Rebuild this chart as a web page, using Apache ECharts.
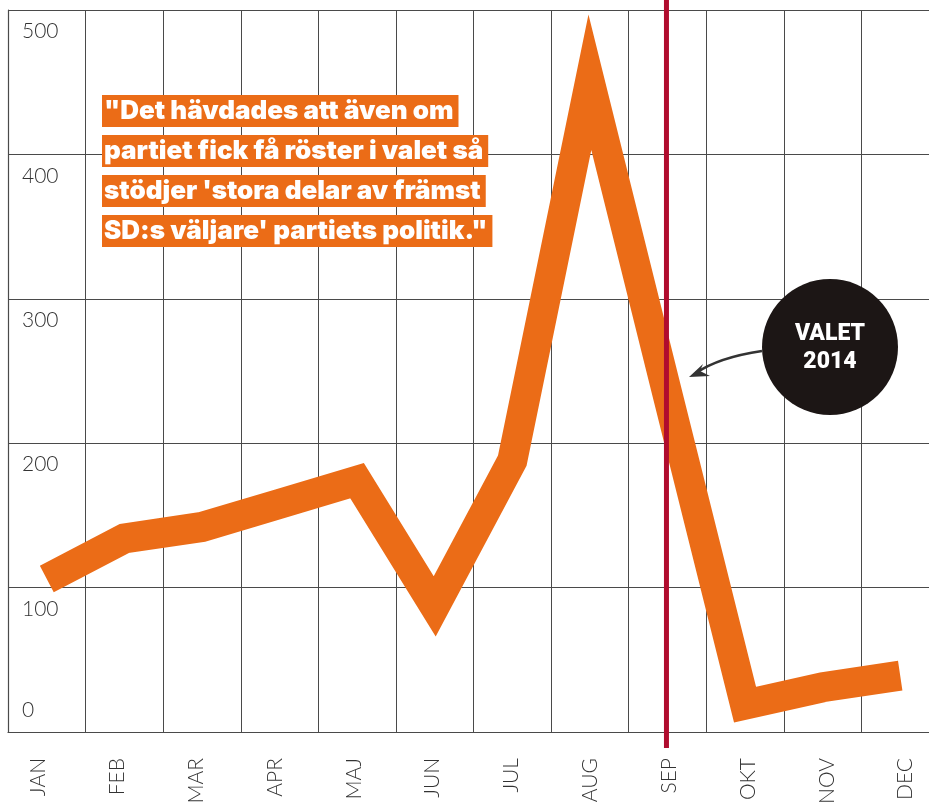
<!DOCTYPE html>
<html>
<head>
<meta charset="utf-8">
<script src="https://cdn.jsdelivr.net/npm/echarts@6/dist/echarts.min.js"></script>
<style>
html,body{margin:0;padding:0;background:#fff;overflow:hidden;width:929px;height:805px;}
#chart{width:945px;height:805px;}
</style>
</head>
<body>
<div id="chart"></div>
<script>
const months = ['JAN','FEB','MAR','APR','MAJ','JUN','JUL','AUG','SEP','OKT','NOV','DEC'];
const values = [106, 134, 142, 158, 174, 87, 188, 450, 234, 19, 31, 39];
const yTicks = [0, 100, 200, 300, 400, 500];
const electionMonth = 'SEP';
const quoteLines = [
  '"Det hävdades att även om',
  'partiet fick få röster i valet så',
  'stödjer \'stora delar av främst',
  'SD:s väljare\' partiets politik."'
];
const badgeLines = ['VALET', '2014'];

const ORANGE = '#EB6C17';
const GRID = '#4a4a4a';
const LABEL = '#333333';
const labelFont = 'Lato';

const chart = echarts.init(document.getElementById('chart'), null, {renderer: 'canvas'});

const yMin = yTicks[0], yMax = yTicks[yTicks.length - 1], yStep = yTicks[1] - yTicks[0];

const option = {
  animation: false,
  backgroundColor: '#fff',
  grid: [
    {left: 8, top: 10, width: 931, height: 722, containLabel: false, outerBoundsMode: 'none'},
    // label band: month names sit on a slightly wider spacing than the plot columns
    {left: -1, top: 10, width: 946, height: 722, containLabel: false, outerBoundsMode: 'none'}
  ],
  xAxis: [{
    type: 'category',
    data: months,
    gridIndex: 0,
    boundaryGap: true,
    axisLine: {show: true, lineStyle: {color: GRID, width: 1.2}},
    axisTick: {show: false},
    splitLine: {show: true, lineStyle: {color: GRID, width: 1}},
    axisLabel: {show: false}
  }, {
    type: 'category',
    data: months,
    gridIndex: 1,
    boundaryGap: true,
    axisLine: {show: false},
    axisTick: {show: false},
    splitLine: {show: false},
    axisLabel: {
      rotate: 90, margin: 26, fontSize: 21, fontFamily: labelFont, fontWeight: 300,
      color: LABEL, verticalAlign: 'middle', interval: 0
    }
  }],
  yAxis: [{
    type: 'value', min: yMin, max: yMax, interval: yStep, gridIndex: 0,
    axisLine: {show: true, lineStyle: {color: GRID, width: 1.2}},
    axisTick: {show: false},
    splitLine: {show: true, lineStyle: {color: GRID, width: 1}},
    axisLabel: {
      inside: true, margin: 14, fontSize: 21, fontFamily: labelFont, fontWeight: 300,
      color: LABEL, verticalAlign: 'top', padding: [11, 0, 0, 0],
      formatter: v => (v === 0 ? '' : String(v))
    }
  }, {
    type: 'value', min: yMin, max: yMax, interval: yStep, position: 'left', gridIndex: 0,
    axisLine: {show: false}, axisTick: {show: false}, splitLine: {show: false},
    axisLabel: {
      inside: true, margin: 14, fontSize: 21, fontFamily: labelFont, fontWeight: 300,
      color: LABEL, verticalAlign: 'bottom', padding: [0, 0, 11, 0],
      formatter: v => (v === 0 ? '0' : '')
    }
  }, {
    type: 'value', min: yMin, max: yMax, interval: yStep, gridIndex: 1, show: false
  }],
  series: [{
    type: 'line',
    data: values,
    xAxisIndex: 0,
    yAxisIndex: 0,
    symbol: 'none',
    z: 3,
    lineStyle: {color: ORANGE, width: 30, cap: 'butt', join: 'miter', miterLimit: 20}
  }]
};
chart.setOption(option);

// annotations
const sepX = chart.convertToPixel({xAxisIndex: 0}, electionMonth);
const graphics = [];
graphics.push({
  type: 'line', z: 10,
  shape: {x1: sepX - 1, y1: 0, x2: sepX - 1, y2: 748},
  style: {stroke: '#B00C2E', lineWidth: 5}
});
quoteLines.forEach((t, i) => {
  graphics.push({
    type: 'text', z: 20, x: 102, y: 95 + i * 40,
    style: {
      text: t, fill: '#fff', font: '900 26px Inter',
      backgroundColor: ORANGE, padding: [3, 5, 3, 2], lineHeight: 26
    }
  });
});
graphics.push({
  type: 'circle', z: 20, shape: {cx: 830, cy: 347, r: 68}, style: {fill: '#1C1615'}
});
badgeLines.forEach((t, i) => {
  graphics.push({
    type: 'text', z: 21, x: 830, y: 334 + i * 28,
    style: {text: t, fill: '#fff', font: '900 23px Roboto', align: 'center', verticalAlign: 'middle'}
  });
});
graphics.push({
  type: 'bezierCurve', z: 20,
  shape: {x1: 762, y1: 351, cpx1: 735, cpy1: 355, cpx2: 712, cpy2: 362, x2: 696, y2: 373},
  style: {stroke: '#333', lineWidth: 2.5, fill: null}
});
graphics.push({
  type: 'polygon', z: 20,
  shape: {points: [[689, 377], [703, 364], [700, 371], [710, 376]]},
  style: {fill: '#333'}
});
chart.setOption({graphic: graphics});
</script>
</body>
</html>
